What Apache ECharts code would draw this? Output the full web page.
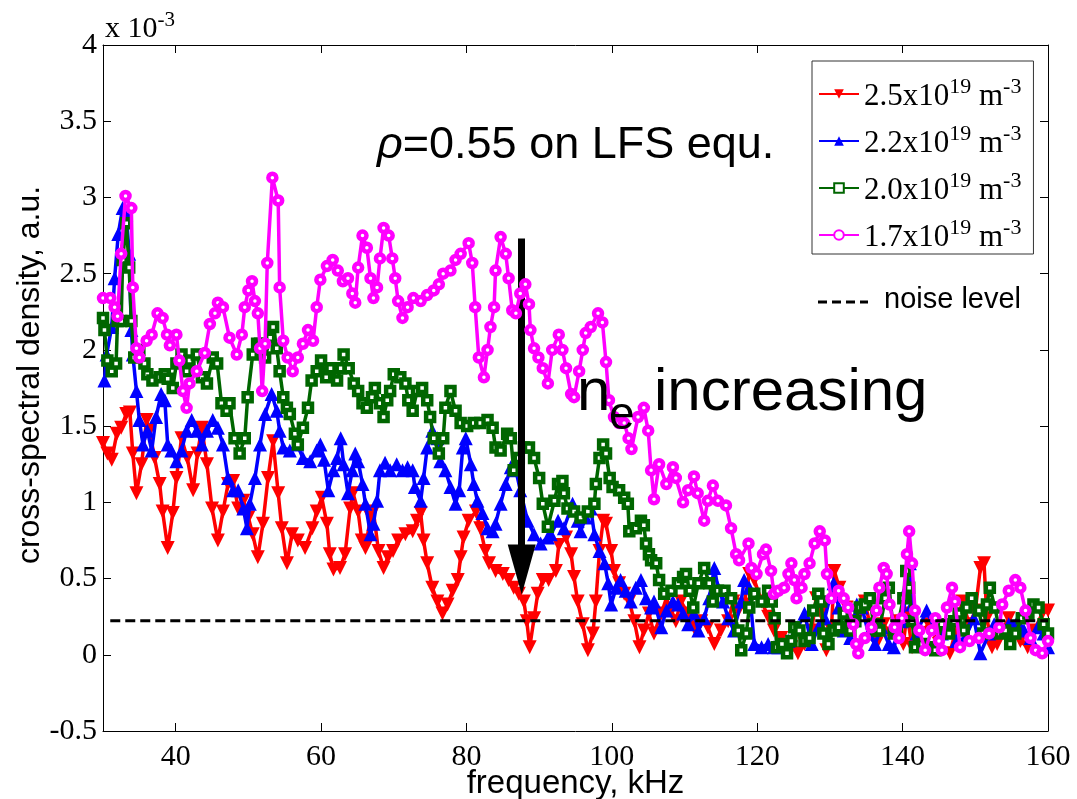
<!DOCTYPE html>
<html>
<head>
<meta charset="utf-8">
<script src="https://cdn.jsdelivr.net/npm/echarts@6/dist/echarts.min.js"></script>
<style>
html,body{margin:0;padding:0;background:#fff;}
#chart{width:1077px;height:799px;}
</style>
</head>
<body>
<div id="chart"></div>
<script>
// ---- data (frequency in kHz, cross-spectral density in units of 1e-3 a.u.) ----
const seriesNames = ['2.5x10^19 m^-3', '2.2x10^19 m^-3', '2.0x10^19 m^-3', '1.7x10^19 m^-3'];
const seriesColors = ['#ff0000', '#0000ff', '#006600', '#ff00ff'];

const redData = [
[30,1.39],[30.6,1.32],[31.2,1.28],[31.9,1.45],[32.5,1.49],[33.2,1.58],[33.7,1.59],[34.1,1.32],[34.6,1.06],[35.3,1.25],
[36.0,1.54],[36.4,1.47],[37.1,1.29],[37.8,1.12],[38.2,0.94],[38.9,0.70],[39.6,0.93],[40.1,1.16],[40.8,1.42],[41.6,1.29],
[42.4,1.08],[43.0,1.32],[43.6,1.49],[44.3,1.25],[45.0,0.96],[45.8,0.75],[46.5,0.94],[47.2,1.12],[47.9,1.14],[48.6,0.96],
[49.3,1.01],[50.0,0.90],[50.6,0.79],[51.3,0.64],[52.0,0.86],[52.7,1.16],[53.4,1.40],[54.1,1.06],[54.6,0.83],[55.3,0.60],
[56.0,0.79],[56.8,0.75],[57.8,0.70],[58.8,0.83],[59.4,0.94],[60.1,1.03],[60.8,0.86],[61.2,0.66],[61.7,0.56],[62.6,0.57],
[63.3,0.66],[64.0,0.96],[64.4,1.06],[65.1,0.94],[65.6,0.75],[66.1,0.70],[66.8,0.90],[67.2,0.94],[67.9,0.68],[68.6,0.57],
[69.2,0.64],[69.9,0.68],[70.6,0.75],[71.6,0.79],[72.6,0.81],[73.2,0.88],[73.7,0.93],[74.1,0.75],[74.6,0.60],[75.3,0.44],
[76.0,0.35],[76.7,0.27],[77.4,0.33],[78.1,0.42],[78.8,0.49],[79.2,0.64],[79.6,0.77],[80.3,0.88],[81.3,0.94],[81.9,0.83],
[82.6,0.68],[83.1,0.60],[84.0,0.55],[85.0,0.53],[85.8,0.49],[86.5,0.44],[87.2,0.40],[87.9,0.35],[88.3,0.22],[88.7,0.05],
[89.3,0.24],[89.8,0.40],[90.5,0.49],[91.3,0.49],[92.3,0.55],[92.7,0.72],[93.7,0.77],[94.4,0.66],[94.8,0.51],[95.3,0.35],
[96.0,0.20],[96.7,0.03],[97.4,0.14],[97.8,0.35],[98.3,0.68],[98.8,0.88],[99.2,0.86],[99.9,0.68],[100.3,0.55],[101.0,0.47],
[101.7,0.40],[102.4,0.35],[103.1,0.22],[103.8,0.05],[104.4,0.16],[105.1,0.27],[105.8,0.14],[106.8,0.27],[107.5,0.37],[108.2,0.29],
[108.8,0.22],[109.5,0.35],[110.5,0.27],[111.3,0.18],[112.3,0.22],[113.2,0.18],[114.1,0.07],[115.0,0.16],[116.0,0.22],[116.7,0.35],
[117.4,0.29],[118.2,0.33],[118.9,0.53],[119.6,0.49],[120.6,0.35],[121.5,0.25],[122.3,0.16],[123.3,0.11],[124.7,0.05],[125.6,0.01],
[126.5,0.07],[127.5,0.16],[128.1,0.37],[128.8,0.27],[129.5,0.03],[130.2,0.16],[130.6,0.55],[131.3,0.44],[132.3,0.31],[133.2,0.22],
[134.1,0.27],[134.8,0.35],[135.5,0.20],[136.4,0.07],[137.4,0.20],[138.2,0.14],[139.5,0.22],[140.1,0.07],[140.6,0.27],[141.3,0.05],
[142.3,0.14],[143.6,0.20],[145.0,0.07],[146.5,0.01],[147.2,0.14],[148.2,0.35],[149.2,0.20],[150.0,0.29],[150.7,0.57],[151.2,0.60],
[151.6,0.24],[152.3,0.05],[153.0,0.07],[153.7,0.16],[154.6,0.24],[155.5,0.14],[156.2,0.09],[157.2,0.05],[158.1,0.16],[159.2,0.27],
[160,0.29]
];

const blueData = [
[30.2,1.80],[30.5,1.97],[31.2,2.15],[31.6,2.47],[32.1,2.76],[32.7,2.93],[33.2,2.89],[33.6,2.63],[33.9,2.13],[34.1,1.97],
[34.6,1.73],[35.0,1.54],[35.5,1.38],[36.1,1.47],[36.7,1.34],[37.3,1.56],[38.0,1.71],[38.5,1.67],[38.9,1.38],[39.4,1.34],
[40.1,1.27],[40.8,1.34],[41.5,1.47],[42.2,1.54],[42.9,1.47],[43.6,1.38],[44.3,1.47],[45.1,1.54],[45.8,1.49],[46.5,1.38],
[47.2,1.16],[47.9,1.08],[48.6,1.08],[49.3,0.96],[49.8,0.83],[50.2,0.99],[50.9,1.16],[51.6,1.38],[52.3,1.58],[53.2,1.71],
[53.9,1.60],[54.3,1.47],[54.8,1.36],[55.7,1.34],[56.7,1.38],[57.5,1.29],[58.5,1.27],[59.4,1.34],[59.9,1.38],[60.4,1.28],
[61.0,1.08],[61.7,1.21],[62.2,1.29],[62.7,1.42],[63.1,1.25],[63.7,1.06],[64.3,1.21],[64.7,1.32],[65.1,1.27],[65.7,1.12],
[66.1,0.99],[66.8,0.79],[67.2,0.86],[67.7,1.01],[68.1,1.21],[68.8,1.26],[69.5,1.21],[70.4,1.25],[71.2,1.21],[71.9,1.23],
[72.6,1.21],[72.9,1.10],[73.7,1.01],[74.1,1.16],[74.6,1.36],[75.3,1.47],[76.0,1.42],[76.4,1.27],[77.1,1.21],[77.8,1.10],
[78.5,0.99],[79.0,1.08],[79.5,1.36],[79.9,1.42],[80.6,1.25],[81.0,1.12],[81.5,1.01],[82.2,0.93],[82.9,0.83],[83.6,0.81],
[84.0,0.86],[84.7,0.99],[85.4,1.12],[86.1,1.23],[86.8,1.21],[87.4,1.08],[88.4,0.88],[89.3,0.79],[90.2,0.73],[91.2,0.77],
[91.6,0.79],[92.6,0.88],[93.4,0.83],[94.6,0.99],[95.3,0.88],[95.7,0.81],[96.4,0.90],[97.1,0.96],[97.6,0.79],[98.3,0.68],
[99.0,0.60],[99.5,0.47],[99.9,0.33],[100.6,0.44],[101.2,0.49],[101.9,0.42],[102.6,0.35],[103.3,0.44],[104.0,0.49],[104.7,0.37],
[105.4,0.31],[105.8,0.35],[106.8,0.18],[107.5,0.29],[108.4,0.35],[109.1,0.33],[109.8,0.27],[110.5,0.20],[111.3,0.27],[111.9,0.16],
[112.7,0.24],[113.4,0.37],[114.1,0.57],[114.6,0.44],[115.3,0.35],[116.0,0.24],[116.8,0.16],[117.8,0.35],[118.2,0.49],[118.9,0.44],
[119.6,0.07],[120.6,0.05],[121.5,0.07],[122.3,0.05],[122.9,0.05],[124.3,0.09],[125.6,0.18],[126.5,0.27],[127.5,0.07],[128.4,0.18],
[129.3,0.24],[130.5,0.47],[131.2,0.31],[131.9,0.16],[132.8,0.11],[133.7,0.33],[134.4,0.31],[135.3,0.14],[136.2,0.07],[137.1,0.18],
[138.1,0.07],[138.8,0.05],[139.9,0.22],[140.6,0.44],[141.0,0.60],[141.3,0.33],[141.9,0.14],[143.3,0.29],[144.3,0.18],[145.4,0.14],
[146.5,0.16],[147.4,0.09],[148.6,0.11],[149.8,0.24],[150.7,0.01],[151.9,0.14],[152.6,0.20],[153.7,0.16],[154.6,0.20],[155.8,0.22],
[156.7,0.16],[157.6,0.11],[158.6,0.18],[159.4,0.14],[160,0.05]
];

const greenData = [
[30.0,2.21],[30.2,2.13],[30.6,1.93],[31.2,1.86],[31.8,1.91],[32.0,2.19],[32.5,2.19],[32.7,2.59],[33.2,2.83],[33.6,2.54],
[33.9,2.19],[34.3,1.95],[35.0,2.00],[35.7,1.91],[36.1,1.84],[36.8,1.80],[37.8,1.82],[38.5,1.84],[38.9,1.81],[39.6,1.75],
[40.1,1.91],[40.8,1.97],[41.5,1.86],[41.9,1.93],[42.9,1.97],[43.6,1.82],[44.3,1.78],[45.1,1.95],[45.7,1.91],[46.3,1.65],
[47.0,1.60],[47.4,1.65],[48.1,1.42],[48.8,1.32],[49.5,1.42],[49.9,1.69],[50.6,1.97],[51.2,2.04],[51.6,2.04],[52.3,1.95],
[53.0,2.08],[53.4,2.15],[53.9,2.01],[54.3,1.86],[54.8,1.69],[55.3,1.62],[55.7,1.58],[56.4,1.45],[56.8,1.38],[57.5,1.49],
[58.2,1.62],[58.7,1.80],[59.4,1.86],[60.0,1.93],[60.7,1.82],[61.3,1.88],[62.2,1.80],[62.7,1.88],[63.1,1.97],[63.8,1.88],
[64.5,1.78],[65.1,1.73],[65.7,1.65],[66.3,1.62],[67.0,1.69],[67.4,1.75],[68.1,1.65],[68.6,1.56],[69.1,1.67],[69.5,1.73],
[70.0,1.84],[70.9,1.82],[71.6,1.78],[72.0,1.67],[72.6,1.60],[73.2,1.73],[73.9,1.75],[74.6,1.67],[75.0,1.56],[75.5,1.42],
[76.2,1.32],[76.8,1.42],[77.1,1.62],[77.8,1.73],[78.5,1.60],[79.2,1.52],[80.1,1.50],[81.0,1.52],[81.9,1.52],[82.9,1.54],
[83.6,1.49],[84.0,1.36],[84.7,1.34],[85.6,1.45],[86.1,1.42],[86.5,1.21],[87.2,1.29],[87.9,1.36],[88.6,1.36],[89.3,1.29],
[90.0,1.16],[90.5,0.99],[91.2,0.84],[92.1,1.01],[92.6,1.12],[93.2,1.14],[93.4,1.06],[93.9,0.96],[94.8,0.94],[95.7,0.90],
[96.7,0.94],[97.6,0.99],[97.8,1.12],[98.3,1.29],[98.8,1.38],[99.2,1.32],[99.7,1.16],[100.1,1.10],[101.0,1.08],[101.7,1.03],
[102.2,0.99],[102.4,0.81],[103.3,0.83],[104.0,0.88],[104.4,0.85],[104.7,0.73],[105.1,0.66],[105.4,0.62],[106.1,0.60],[106.5,0.49],
[107.2,0.40],[108.2,0.42],[109.1,0.47],[109.8,0.51],[110.2,0.53],[110.7,0.42],[111.2,0.31],[111.9,0.47],[112.7,0.57],[113.4,0.47],
[113.9,0.35],[114.6,0.42],[115.5,0.42],[116.4,0.37],[117.4,0.16],[117.8,0.03],[118.5,0.14],[118.9,0.31],[119.6,0.40],[120.6,0.35],
[121.5,0.42],[122.0,0.35],[122.4,0.24],[122.7,0.05],[123.4,0.07],[124.1,0.01],[124.7,0.09],[125.1,0.18],[125.8,0.16],[126.5,0.09],
[127.2,0.11],[127.7,0.29],[128.4,0.40],[128.8,0.35],[129.1,0.14],[129.8,0.07],[130.5,0.16],[131.2,0.18],[131.9,0.27],[132.3,0.18],
[132.8,0.16],[133.5,0.22],[134.1,0.31],[134.8,0.33],[135.5,0.37],[136.0,0.20],[136.4,0.16],[136.8,0.16],[137.6,0.37],[138.1,0.44],
[138.8,0.14],[139.2,0.16],[140.1,0.37],[140.5,0.55],[140.9,0.44],[141.3,0.22],[141.7,0.05],[142.7,0.07],[143.6,0.05],[144.5,0.03],
[145.4,0.20],[146.4,0.14],[147.1,0.22],[147.7,0.27],[148.4,0.16],[148.8,0.31],[149.5,0.37],[150.5,0.29],[151.1,0.14],[151.6,0.33],
[152.0,0.44],[152.7,0.31],[153.4,0.14],[154.1,0.16],[154.8,0.07],[155.5,0.14],[156.4,0.24],[157.3,0.27],[158.0,0.33],[158.7,0.31],
[159.4,0.20],[160,0.14]
];

const magentaData = [
[30.0,2.34],[31.0,2.34],[31.6,2.28],[32.0,2.22],[32.5,2.63],[33.1,3.01],[33.9,2.93],[34.1,2.41],[34.6,2.01],[35.0,1.95],
[36.0,2.06],[36.7,2.10],[37.5,2.24],[38.2,2.21],[38.8,2.10],[39.2,2.03],[40.1,2.10],[40.5,1.93],[41.0,1.73],[41.5,1.62],
[41.9,1.78],[42.9,1.86],[44.0,1.98],[44.7,2.17],[45.4,2.24],[45.8,2.31],[46.5,2.28],[47.4,2.08],[48.4,1.97],[49.1,2.10],
[49.5,2.28],[50.0,2.39],[50.5,2.45],[50.9,2.32],[51.3,2.24],[51.6,2.01],[51.9,1.73],[52.3,2.04],[52.6,2.57],[53.3,3.13],
[54.1,2.98],[54.3,2.41],[54.8,2.06],[55.4,1.95],[56.1,1.86],[56.8,1.95],[57.5,2.04],[58.2,2.13],[58.9,2.06],[59.4,2.28],
[59.9,2.46],[60.8,2.55],[61.6,2.59],[62.3,2.52],[63.0,2.45],[63.7,2.47],[64.3,2.37],[64.7,2.31],[65.1,2.54],[65.7,2.75],
[66.3,2.67],[66.8,2.47],[67.2,2.34],[67.7,2.41],[68.1,2.60],[68.6,2.80],[69.3,2.75],[69.8,2.60],[70.2,2.47],[70.6,2.32],
[71.2,2.21],[71.9,2.28],[72.7,2.34],[73.7,2.32],[74.6,2.36],[75.5,2.39],[76.2,2.43],[76.8,2.50],[77.8,2.52],[78.5,2.59],
[79.2,2.63],[80.3,2.70],[80.8,2.57],[81.2,2.28],[81.7,1.95],[82.4,1.82],[82.9,2.00],[83.3,2.15],[83.8,2.28],[84.0,2.52],
[84.7,2.74],[85.4,2.63],[85.8,2.47],[86.3,2.26],[86.8,2.24],[87.4,2.37],[88.1,2.43],[88.6,2.30],[88.8,2.13],[89.3,2.01],
[89.9,1.95],[90.5,1.88],[91.2,1.78],[91.8,2.00],[92.7,2.10],[93.2,2.00],[93.7,1.88],[94.4,1.71],[94.8,1.69],[95.5,1.86],
[96.0,2.00],[96.4,2.11],[97.1,2.15],[98.1,2.24],[98.7,2.18],[99.2,1.92],[99.6,1.67],[100.3,1.56],[101.0,1.52],[101.7,1.52],
[102.3,1.42],[102.7,1.35],[103.6,1.56],[104.4,1.62],[105.0,1.47],[105.4,1.21],[105.8,1.02],[106.5,1.25],[107.5,1.12],[108.4,1.23],
[108.8,1.16],[109.8,1.00],[110.5,1.08],[111.3,1.17],[111.8,1.06],[112.7,0.88],[113.2,1.01],[113.9,1.11],[114.6,1.01],[115.7,0.98],
[116.4,0.83],[117.1,0.66],[117.5,0.62],[118.8,0.73],[119.2,0.57],[119.9,0.53],[120.8,0.66],[121.2,0.69],[121.9,0.55],[122.3,0.40],
[122.9,0.42],[123.7,0.44],[124.3,0.53],[124.7,0.60],[125.1,0.49],[125.4,0.37],[126.1,0.44],[126.5,0.53],[127.2,0.60],[127.9,0.73],
[128.6,0.81],[129.3,0.75],[129.6,0.53],[130.2,0.37],[131.2,0.42],[131.9,0.37],[132.5,0.31],[133.2,0.20],[133.6,0.07],[133.9,0.01],
[134.8,0.11],[135.7,0.18],[136.4,0.29],[136.8,0.44],[137.4,0.57],[137.8,0.53],[138.2,0.33],[138.9,0.18],[139.5,0.11],[139.9,0.24],
[140.6,0.66],[140.9,0.81],[141.3,0.60],[141.7,0.29],[142.3,0.16],[143.1,0.03],[144.0,0.16],[144.5,0.24],[145.0,0.09],[145.4,0.03],
[146.1,0.31],[146.8,0.44],[147.2,0.35],[147.9,0.05],[149.2,0.09],[150.5,0.11],[151.9,0.14],[153.3,0.18],[153.7,0.33],[154.6,0.42],
[155.5,0.49],[156.2,0.44],[156.9,0.29],[157.6,0.11],[158.3,0.03],[159.2,0.01],[160,0.09]
];

const noiseLevel = 0.223;
const noiseRange = [31, 160];
const arrowFreq = 87.6;
const arrowFrom = 2.73;
const arrowTo = 0.56;

const xTickValues = [40, 60, 80, 100, 120, 140, 160];
const yMin = -0.5, yMax = 4, yStep = 0.5;
const xMin = 30, xMax = 160;

// ---- chart ----
const chart = echarts.init(document.getElementById('chart'), null, {renderer: 'canvas'});
const SERIF = "'Liberation Serif', 'Times New Roman', serif";
const SANS = "'Liberation Sans', Arial, sans-serif";

function legendRich(name) {
  const parts = name.split('x10^19 m^-3');
  return '{b|' + parts[0] + 'x10}{s|19}{b| m}{s|-3}';
}

// marker styles: red/blue filled triangles, green/magenta thick-edged squares/circles with small white centre
const symbols = [
  {symbol: 'triangle', rotate: 180, size: 14, fill: '#ff0000', border: 0},
  {symbol: 'triangle', rotate: 0, size: 14, fill: '#0000ff', border: 0},
  {symbol: 'rect', rotate: 0, size: 8, fill: '#ffffff', border: 4.5},
  {symbol: 'circle', rotate: 0, size: 8, fill: '#ffffff', border: 4.5}
];
const dataSets = [redData, blueData, greenData, magentaData];

const mainSeries = dataSets.map((d, i) => ({
  name: seriesNames[i],
  type: 'line',
  data: d,
  xAxisIndex: 0, yAxisIndex: 0,
  symbol: symbols[i].symbol,
  symbolRotate: symbols[i].rotate,
  symbolSize: symbols[i].size,
  showAllSymbol: true,
  lineStyle: {color: seriesColors[i], width: 3.5},
  itemStyle: {color: symbols[i].fill, borderColor: seriesColors[i], borderWidth: symbols[i].border},
  emphasis: {disabled: true},
  animation: false,
  z: 2 + i
}));

const axisCommon = {
  type: 'value',
  axisLine: {show: true, onZero: false, lineStyle: {color: '#000', width: 1}},
  splitLine: {show: false},
  axisTick: {show: true, inside: true, length: 8, lineStyle: {color: '#000', width: 1}}
};

const option = {
  backgroundColor: '#fff',
  animation: false,
  grid: {left: 103, right: 29, top: 45, bottom: 68, containLabel: false, outerBoundsMode: 'none'},
  xAxis: [
    Object.assign({}, axisCommon, {
      position: 'bottom', min: xMin, max: xMax,
      axisTick: {show: true, inside: true, length: 8, customValues: xTickValues, lineStyle: {color: '#000'}},
      axisLabel: {show: true, customValues: xTickValues, margin: 11, color: '#000', fontFamily: SERIF, fontSize: 30},
      name: 'frequency, kHz', nameLocation: 'middle', nameGap: 36, nameMoveOverlap: false,
      nameTextStyle: {fontFamily: SANS, fontSize: 33, color: '#000'}
    }),
    Object.assign({}, axisCommon, {
      position: 'top', min: xMin, max: xMax,
      axisTick: {show: true, inside: true, length: 8, customValues: xTickValues, lineStyle: {color: '#000'}},
      axisLabel: {show: false}
    })
  ],
  yAxis: [
    Object.assign({}, axisCommon, {
      position: 'left', min: yMin, max: yMax, interval: yStep,
      axisLabel: {show: true, margin: 6, color: '#000', fontFamily: SERIF, fontSize: 30},
      name: 'cross-spectral density, a.u.', nameLocation: 'middle', nameGap: 57, nameRotate: 90, nameMoveOverlap: false,
      nameTextStyle: {fontFamily: SANS, fontSize: 32, color: '#000', padding: [0, 0, 0, 26]}
    }),
    Object.assign({}, axisCommon, {
      position: 'right', min: yMin, max: yMax, interval: yStep,
      axisLabel: {show: false}
    })
  ],
  legend: {
    data: seriesNames,
    orient: 'vertical',
    left: 812, top: 61,
    width: 220,
    backgroundColor: '#fff',
    borderColor: '#333', borderWidth: 1, borderRadius: 0,
    padding: [15, 12, 1, 6],
    itemGap: 11,
    itemWidth: 40, itemHeight: 12,
    formatter: legendRich,
    selectedMode: false,
    textStyle: {
      color: '#000',
      rich: {
        b: {fontFamily: SERIF, fontSize: 31, lineHeight: 36, verticalAlign: 'bottom', color: '#000'},
        s: {fontFamily: SERIF, fontSize: 22, lineHeight: 21, verticalAlign: 'top', color: '#000'}
      }
    }
  },
  series: mainSeries.concat([
    {
      name: 'noise level', type: 'line',
      data: [[noiseRange[0], noiseLevel], [noiseRange[1], noiseLevel]],
      symbol: 'none', silent: true,
      lineStyle: {color: '#000', width: 3, type: [10, 5]},
      z: 10,
      markLine: {
        silent: true,
        symbol: ['none', 'triangle'],
        symbolSize: [28, 50],
        label: {show: false},
        lineStyle: {color: '#000', width: 7, type: 'solid'},
        itemStyle: {color: '#000'},
        data: [[{coord: [arrowFreq, arrowFrom]}, {coord: [arrowFreq, arrowTo]}]]
      }
    }
  ]),
  graphic: [
    {
      type: 'text', left: 105, top: 10, z: 100,
      style: {
        text: '{b|x 10}{s|-3}',
        rich: {
          b: {fontFamily: SERIF, fontSize: 30, lineHeight: 34, verticalAlign: 'bottom', fill: '#000'},
          s: {fontFamily: SERIF, fontSize: 21, lineHeight: 21, verticalAlign: 'top', fill: '#000'}
        }
      }
    },
    {
      type: 'text', left: 377, top: 123, z: 100,
      style: {
        text: '{i|ρ}{n|=0.55 on LFS equ.}',
        rich: {
          i: {fontFamily: SANS, fontSize: 45, fontStyle: 'italic', fill: '#000'},
          n: {fontFamily: SANS, fontSize: 45, fill: '#000'}
        }
      }
    },
    {type: 'text', left: 577, top: 363, z: 100, style: {text: 'n', font: '60px ' + SANS, fill: '#000'}},
    {type: 'text', left: 609, top: 393, z: 100, style: {text: 'e', font: '46px ' + SANS, fill: '#000'}},
    {type: 'text', left: 654, top: 363, z: 100, style: {text: 'increasing', font: '60px ' + SANS, fill: '#000'}},
    {
      type: 'line', shape: {x1: 818, y1: 302, x2: 868, y2: 302}, z: 100,
      style: {stroke: '#000', lineWidth: 3, lineDash: [9, 5]}
    },
    {type: 'text', left: 884, top: 285, z: 100, style: {text: 'noise level', font: '29px ' + SANS, fill: '#000'}}
  ]
};

chart.setOption(option);
</script>
</body>
</html>
